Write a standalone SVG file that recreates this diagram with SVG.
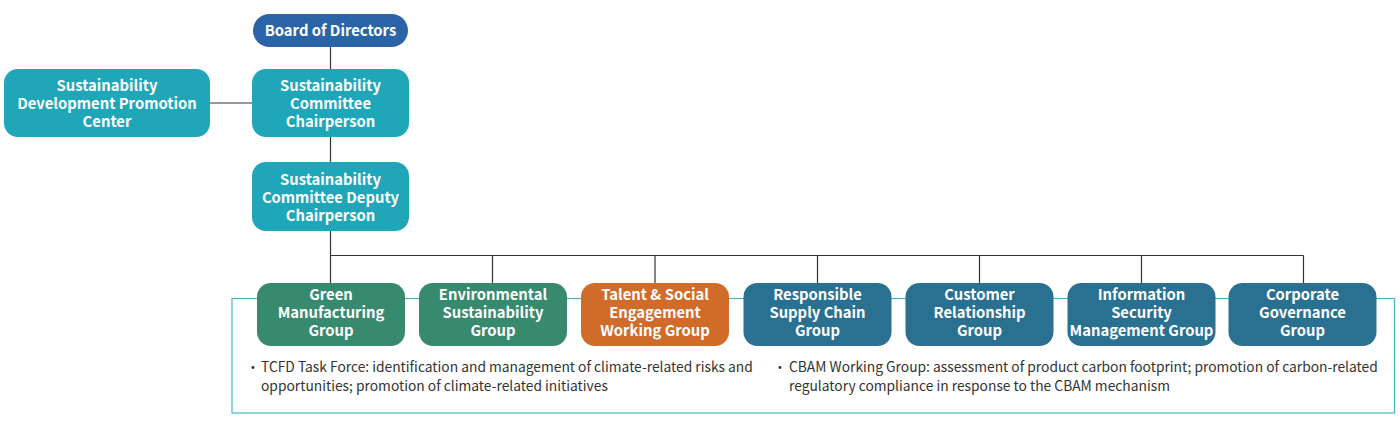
<svg xmlns="http://www.w3.org/2000/svg" width="1400" height="428" viewBox="0 0 1400 428">
<style>
.lbl{font-family:"Noto Sans CJK TC","Noto Sans",sans-serif;font-weight:bold;font-size:14.8px;fill:#fff;text-anchor:middle}
.note{font-family:"Noto Sans CJK TC","Noto Sans",sans-serif;font-size:13.8px;fill:#333}
.ln{stroke:#333;stroke-width:1.2;fill:none}
.teal{fill:#1fa6b9}
.green{fill:#378a6e}
.orange{fill:#d06b2a}
.blue{fill:#2a7091}
</style>
<rect x="232" y="298.5" width="1162.5" height="114.5" fill="none" stroke="#45b6c6" stroke-width="1.2"/>
<g id="connectors">
<path class="ln" d="M330.5 47V69M330.5 137V162M330.5 231V283M210 103H252M330.5 255.5H1303.5M492.5 255.5V283M655 255.5V283M817.5 255.5V283M979.5 255.5V283M1141.5 255.5V283M1303.5 255.5V283"/>
</g>
<g id="board"><rect x="253" y="14" width="155" height="33" rx="16.5" fill="#2a64a6"/><text class="lbl" x="330.5" y="36">Board of Directors</text></g>
<g id="chair"><rect class="teal" x="252" y="69" width="157" height="68" rx="14"/><text class="lbl" x="330.5" y="91">Sustainability</text><text class="lbl" x="330.5" y="109">Committee</text><text class="lbl" x="330.5" y="127">Chairperson</text></g>
<g id="sdpc"><rect class="teal" x="4" y="69" width="206" height="68" rx="14"/><text class="lbl" x="107" y="91">Sustainability</text><text class="lbl" x="107" y="109">Development Promotion</text><text class="lbl" x="107" y="127">Center</text></g>
<g id="deputy"><rect class="teal" x="252" y="162" width="157" height="69" rx="14"/><text class="lbl" x="330.5" y="185">Sustainability</text><text class="lbl" x="330.5" y="203">Committee Deputy</text><text class="lbl" x="330.5" y="221">Chairperson</text></g>
<g id="g1"><rect class="green" x="257" y="283" width="148" height="63" rx="14"/><text class="lbl" x="331" y="300">Green</text><text class="lbl" x="331" y="318">Manufacturing</text><text class="lbl" x="331" y="336">Group</text></g>
<g id="g2"><rect class="green" x="419" y="283" width="148" height="63" rx="14"/><text class="lbl" x="493" y="300">Environmental</text><text class="lbl" x="493" y="318">Sustainability</text><text class="lbl" x="493" y="336">Group</text></g>
<g id="g3"><rect class="orange" x="581" y="283" width="148" height="63" rx="14"/><text class="lbl" x="655" y="300">Talent &amp; Social</text><text class="lbl" x="655" y="318">Engagement</text><text class="lbl" x="655" y="336">Working Group</text></g>
<g id="g4"><rect class="blue" x="743.5" y="283" width="148" height="63" rx="14"/><text class="lbl" x="817.5" y="300">Responsible</text><text class="lbl" x="817.5" y="318">Supply Chain</text><text class="lbl" x="817.5" y="336">Group</text></g>
<g id="g5"><rect class="blue" x="905.5" y="283" width="148" height="63" rx="14"/><text class="lbl" x="979.5" y="300">Customer</text><text class="lbl" x="979.5" y="318">Relationship</text><text class="lbl" x="979.5" y="336">Group</text></g>
<g id="g6"><rect class="blue" x="1067.5" y="283" width="148" height="63" rx="14"/><text class="lbl" x="1141.5" y="300">Information</text><text class="lbl" x="1141.5" y="318">Security</text><text class="lbl" x="1141.5" y="336">Management Group</text></g>
<g id="g7"><rect class="blue" x="1228.5" y="283" width="148" height="63" rx="14"/><text class="lbl" x="1302.5" y="300">Corporate</text><text class="lbl" x="1302.5" y="318">Governance</text><text class="lbl" x="1302.5" y="336">Group</text></g>
<g id="notes">
<text class="note" x="246" y="372">・</text>
<text class="note" x="261" y="372">TCFD Task Force: identification and management of climate-related risks and</text>
<text class="note" x="261" y="391">opportunities; promotion of climate-related initiatives</text>
<text class="note" x="773" y="372">・</text>
<text class="note" x="789" y="372">CBAM Working Group: assessment of product carbon footprint; promotion of carbon-related</text>
<text class="note" x="789" y="391">regulatory compliance in response to the CBAM mechanism</text>
</g>
</svg>
